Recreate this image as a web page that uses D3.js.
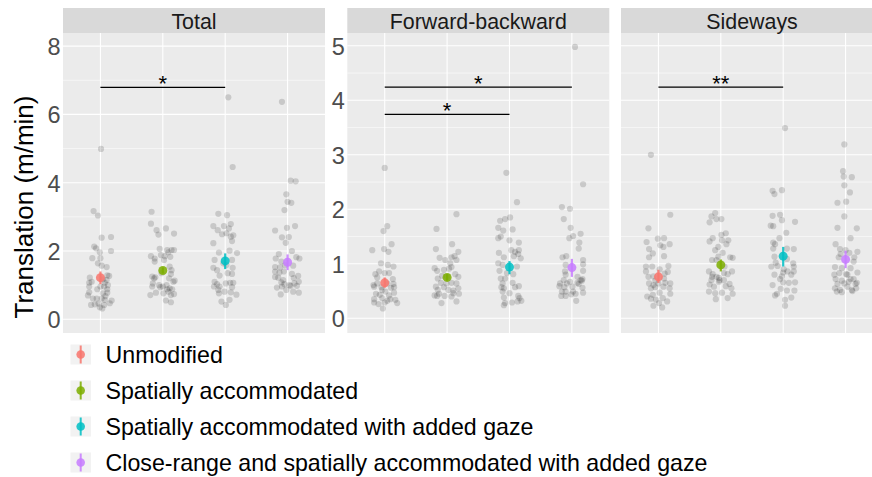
<!DOCTYPE html>
<html>
<head>
<meta charset="utf-8">
<script src="https://cdn.jsdelivr.net/npm/d3@7"></script>
<style>
  body { margin: 0; background: #fff; }
  svg { display: block; font-family: "Liberation Sans", Arial, sans-serif; }
</style>
</head>
<body>
<svg id="chart"></svg>
<script>
// conditions (legend order)
var conditions = [
  "Unmodified",
  "Spatially accommodated",
  "Spatially accommodated with added gaze",
  "Close-range and spatially accommodated with added gaze"
];
var colors = ["#F8766D", "#7CAE00", "#00BFC4", "#C77CFF"];

var panelNames = ["Total", "Forward-backward", "Sideways"];
var totalTicks = [0, 2, 4, 6, 8];
var fbTicks = [0, 1, 2, 3, 4, 5];

// raw observations per condition: [jitter offset (category units), value]
var totalUnmod = [[.01,4.99],[-.11,3.17],[-.04,3.04],[.02,2.39],[.17,2.41],[-.10,2.13],[-.07,2.08],[-.01,1.96],[.17,2.0],[-.13,1.79],[0,1.79],[-.04,1.64],[.02,1.57],[.10,1.53],[-.17,1.22],[.11,1.29],[.14,1.27],[-.18,1.07],[.07,1.07],[.12,1.0],[-.18,.96],[0,.96],[.06,.96],[-.18,.79],[.04,.76],[.11,.78],[-.2,.70],[.08,.68],[-.12,.61],[-.06,.61],[.02,.61],[.07,.57],[.18,.55],[-.15,.42],[-.09,.44],[-.03,.46],[.06,.42],[.15,.47],[-.01,.35],[.03,.32],[-.05,.88],[.11,.88],[.04,1.17],[-.14,1.1],[.1,1.15]];
var totalSpatial = [[-.18,3.15],[-.19,2.80],[-.10,2.61],[-.07,2.48],[.05,2.66],[.18,2.51],[-.05,2.06],[.07,2.03],[.14,2.03],[.18,2.03],[-.19,1.85],[-.13,1.78],[-.03,1.88],[.03,1.85],[.09,1.96],[.12,1.83],[-.13,1.69],[.02,1.74],[.11,1.54],[-.17,1.25],[-.14,1.2],[-.12,1.23],[.14,1.44],[.13,1.33],[-.16,1.05],[-.06,1.0],[.06,1.0],[.17,1.1],[.19,1.13],[-.04,.94],[.07,.88],[.11,.91],[.15,.88],[-.2,.71],[-.11,.78],[.01,.76],[.09,.81],[.13,.71],[.18,.74],[.05,.55],[.13,.5],[-.02,1.35],[.10,1.2],[-.17,.96],[0,.96]];
var totalGaze = [[.05,6.5],[.12,4.46],[-.11,3.09],[.03,3.05],[-.19,2.73],[-.12,2.61],[-.02,2.73],[.09,2.79],[.06,2.66],[-.05,2.49],[.02,2.52],[.09,2.42],[.13,2.46],[.11,2.29],[-.19,2.23],[-.10,1.95],[.07,2.01],[.19,1.94],[-.17,1.74],[.11,1.74],[-.03,1.64],[-.19,1.51],[.02,1.59],[.12,1.51],[-.13,1.44],[.04,1.35],[.11,1.33],[-.09,1.28],[-.17,1.1],[-.13,1.03],[.01,1.05],[.08,1.07],[.13,1.07],[-.18,.96],[-.09,.96],[.11,.94],[-.11,.86],[-.01,.81],[.09,.79],[.18,.72],[-.10,.76],[-.06,.52],[.07,.57],[.01,.42]];
var totalClose = [[-.09,6.37],[.05,4.06],[.13,4.04],[-.02,3.66],[0,3.44],[.06,3.41],[-.05,3.2],[-.20,2.6],[-.01,2.68],[.12,2.73],[-.09,2.4],[.02,2.41],[-.03,2.24],[.07,2.0],[-.14,1.91],[-.19,1.78],[.14,1.82],[.19,1.78],[-.10,1.69],[-.04,1.58],[.09,1.57],[-.2,1.53],[-.12,1.52],[-.20,1.4],[-.13,1.37],[-.06,1.40],[-.20,1.24],[-.15,1.22],[-.07,1.15],[.07,1.33],[.17,1.27],[.1,1.21],[-.10,1.08],[-.05,1.03],[.03,1.0],[.11,1.05],[.18,1.1],[-.09,.96],[.05,.98],[.15,.98],[-.17,.93],[-.02,.86],[.09,.81],[.18,.78],[-.11,.73]];

var fbUnmod = [[0,2.76],[.04,1.69],[-.02,1.60],[.11,1.36],[-.2,1.25],[-.01,1.27],[.06,1.22],[-.06,1.01],[.05,.98],[.14,.95],[-.09,.86],[-.15,.81],[0,.83],[.07,.83],[-.18,.61],[-.12,.64],[-.05,.57],[.04,.64],[.14,.63],[.10,.56],[-.17,.58],[.15,.57],[-.14,.45],[-.08,.43],[.01,.49],[.07,.42],[.15,.47],[-.17,.35],[-.04,.37],[.09,.35],[.17,.34],[-.17,.29],[-.1,.26],[0,.29],[.04,.32],[.2,.28],[-.03,.18],[-.12,.75],[-.04,.52],[.13,.72]];
var fbSpatial = [[.15,1.91],[-.17,1.64],[.08,1.36],[-.18,1.27],[.18,1.22],[-.12,1.11],[-.03,1.07],[.07,1.12],[.12,1.14],[.05,1.01],[.15,1.07],[-.20,.92],[-.16,.87],[-.05,.89],[.03,.91],[.07,.94],[-.15,.73],[-.08,.78],[.13,.81],[.18,.76],[-.10,.65],[-.01,.64],[.07,.65],[-.18,.58],[-.05,.57],[.15,.64],[.18,.55],[-.15,.52],[.02,.52],[.10,.51],[-.2,.42],[-.13,.45],[-.04,.41],[.10,.46],[.19,.45],[-.09,.28],[.15,.31],[.07,.4],[-.16,.41],[0,.76]];
var fbGaze = [[-.05,2.67],[.12,2.13],[-.15,1.79],[-.07,1.82],[.01,1.85],[-.18,1.66],[-.10,1.61],[.05,1.63],[-.18,1.47],[-.14,1.5],[0,1.43],[.15,1.39],[-.17,1.2],[.03,1.25],[.09,1.22],[.15,1.25],[-.09,1.12],[.07,1.14],[.14,1.18],[.18,1.1],[-.18,1.01],[-.11,.98],[.12,.95],[-.16,.87],[-.04,.83],[.06,.81],[-.14,.73],[-.07,.73],[-.11,.64],[.05,.65],[.15,.59],[-.09,.55],[-.13,.57],[.09,.57],[0,.46],[-.11,.49],[.14,.41],[.16,.37],[-.09,.38],[.13,.31],[-.07,.28],[.04,.29],[-.09,.24],[.19,.32]];
var fbClose = [[.05,4.98],[.18,2.46],[-.16,2.04],[-.03,2.01],[-.13,1.82],[-.02,1.66],[-.04,1.47],[.02,1.51],[.14,1.55],[.12,1.39],[.11,1.28],[-.15,1.12],[-.09,1.14],[.18,1.07],[-.1,.98],[.18,.99],[.18,.87],[-.11,.86],[-.10,.80],[-.13,.70],[-.03,.67],[.09,.76],[.14,.70],[.17,.72],[-.19,.64],[-.08,.64],[.09,.65],[.16,.69],[-.20,.59],[-.12,.57],[.01,.58],[.11,.63],[.17,.56],[-.16,.49],[-.10,.49],[.02,.49],[.18,.47],[-.17,.41],[-.1,.41],[-.01,.44],[.06,.45],[.07,.32]];

var swUnmod = [[-.12,3.0],[.19,1.90],[-.16,1.65],[-.01,1.46],[.09,1.47],[-.19,1.40],[.03,1.34],[.08,1.31],[.18,1.36],[-.15,1.27],[-.09,1.19],[.09,1.14],[-.15,1.12],[-.2,.95],[-.1,.95],[.16,.96],[-.2,.86],[.02,.9],[.15,.85],[-.16,.76],[-.08,.77],[.09,.73],[.19,.64],[-.15,.64],[-.08,.61],[0,.64],[.11,.65],[-.12,.55],[-.05,.57],[.08,.58],[.18,.55],[-.09,.43],[-.18,.40],[.02,.47],[.19,.45],[-.12,.36],[-.04,.34],[.07,.37],[.14,.31],[-.08,.23],[.01,.28],[.06,.20],[-.05,.69],[.1,.82]];
var swSpatial = [[-.09,1.93],[-.15,1.87],[-.07,1.82],[.01,1.82],[-.18,1.76],[.08,1.56],[.01,1.53],[-.13,1.47],[-.18,1.41],[.02,1.43],[.12,1.43],[-.04,1.31],[.09,1.36],[-.09,1.25],[.03,1.2],[-.14,1.07],[-.07,1.07],[.15,1.12],[.19,1.11],[-.04,1.13],[-.19,.86],[-.13,.81],[.05,.83],[.11,.81],[.18,.86],[-.07,.76],[-.02,.7],[-.15,.7],[.05,.7],[-.18,.62],[-.11,.58],[-.03,.67],[.08,.59],[.14,.63],[.17,.55],[-.19,.49],[-.09,.46],[.02,.47],[.19,.45],[.11,.37],[-.08,.35],[-.14,.76],[.06,.95],[-.03,.74]];
var swGaze = [[.03,3.49],[-.17,2.34],[-.14,2.28],[-.02,2.35],[-.17,1.88],[-.05,1.9],[-.02,1.80],[.19,1.77],[-.2,1.70],[-.16,1.69],[.05,1.57],[-.06,1.47],[-.16,1.39],[-.13,1.36],[-.16,1.28],[.06,1.28],[.17,1.27],[-.14,1.13],[.06,1.09],[-.12,1.02],[.16,1.01],[-.19,.95],[.17,.95],[-.09,.96],[.01,.9],[0,.84],[.07,.86],[.17,.86],[-.14,.8],[.13,.8],[-.05,.72],[.09,.65],[.19,.66],[-.17,.61],[0,.66],[-.04,.54],[.06,.51],[.18,.51],[-.10,.45],[-.13,.42],[.13,.38],[.03,.34],[.03,.23],[-.02,.77]];
var swClose = [[-.02,3.19],[-.04,2.70],[-.03,2.6],[.10,2.59],[-.02,2.44],[.07,2.31],[-.13,2.12],[.01,2.14],[-.02,1.87],[-.13,1.66],[.18,1.65],[.08,1.47],[-.16,1.36],[-.09,1.27],[0,1.25],[.19,1.22],[-.08,1.18],[.06,1.20],[-.11,1.12],[.14,1.12],[.13,1.04],[-.17,.94],[-.06,.92],[.08,.92],[.01,.81],[.19,.84],[-.1,.83],[-.18,.80],[.03,.80],[-.16,.72],[-.06,.69],[.08,.72],[.13,.72],[.18,.65],[-.13,.63],[-.02,.64],[.05,.67],[.16,.63],[-.17,.55],[-.09,.52],[.03,.58],[.10,.52],[.17,.55],[-.14,.49],[-.06,.48],[.11,.5]];

// group means with error bars
var totalMean = [1.22, 1.43, 1.71, 1.67];
var totalLow  = [1.03, 1.34, 1.47, 1.44];
var totalHigh = [1.40, 1.52, 1.93, 1.90];
var fbMean = [0.65, 0.75, 0.94, 0.93];
var fbLow  = [0.56, 0.69, 0.81, 0.76];
var fbHigh = [0.75, 0.81, 1.05, 1.09];
var swMean = [0.76, 0.98, 1.14, 1.08];
var swLow  = [0.65, 0.86, 0.95, 0.92];
var swHigh = [0.89, 1.08, 1.31, 1.24];

// significance brackets: [from, to, height, label]
var totalSig = [[0, 2, 6.79, "*"]];
var fbSig = [[0, 3, 4.24, "*"], [0, 2, 3.74, "*"]];
var swSig = [[0, 2, 4.24, "**"]];

var width = 872, height = 477;
var panelTop = 33, panelBottom = 333, stripTop = 8;
var panelW = 262;

var panels = [
  { name: panelNames[0], x0: 63, domain: [-0.401, 8.384], ticks: totalTicks, labels: true,
    points: [totalUnmod, totalSpatial, totalGaze, totalClose],
    mean: totalMean, low: totalLow, high: totalHigh, sig: totalSig },
  { name: panelNames[1], x0: 347.3, domain: [-0.27, 5.235], ticks: fbTicks, labels: true,
    points: [fbUnmod, fbSpatial, fbGaze, fbClose],
    mean: fbMean, low: fbLow, high: fbHigh, sig: fbSig },
  { name: panelNames[2], x0: 621, domain: [-0.27, 5.235], ticks: fbTicks, labels: false,
    points: [swUnmod, swSpatial, swGaze, swClose],
    mean: swMean, low: swLow, high: swHigh, sig: swSig }
];

var svg = d3.select("#chart").attr("width", width).attr("height", height);
svg.append("rect").attr("width", width).attr("height", height).attr("fill", "#fff");

panels.forEach(function(p) {
  var x = d3.scalePoint().domain(d3.range(4)).range([p.x0, p.x0 + panelW]).padding(0.6);
  var step = x.step();
  var y = d3.scaleLinear().domain(p.domain).range([panelBottom, panelTop]);
  var g = svg.append("g");

  g.append("rect")
    .attr("x", p.x0).attr("y", panelTop)
    .attr("width", panelW).attr("height", panelBottom - panelTop)
    .attr("fill", "#ebebeb");

  var minors = p.ticks.slice(1).map(function(t, i) { return (t + p.ticks[i]) / 2; });
  g.selectAll(".minor").data(minors).enter().append("line")
    .attr("x1", p.x0).attr("x2", p.x0 + panelW)
    .attr("y1", d => y(d)).attr("y2", d => y(d))
    .attr("stroke", "#fff").attr("stroke-width", 0.55);
  g.selectAll(".major").data(p.ticks).enter().append("line")
    .attr("x1", p.x0).attr("x2", p.x0 + panelW)
    .attr("y1", d => y(d)).attr("y2", d => y(d))
    .attr("stroke", "#fff").attr("stroke-width", 1.1);
  g.selectAll(".vmajor").data(d3.range(4)).enter().append("line")
    .attr("x1", d => x(d)).attr("x2", d => x(d))
    .attr("y1", panelTop).attr("y2", panelBottom)
    .attr("stroke", "#fff").attr("stroke-width", 1.1);

  // strip
  g.append("rect")
    .attr("x", p.x0).attr("y", stripTop)
    .attr("width", panelW).attr("height", panelTop - stripTop)
    .attr("fill", "#d9d9d9");
  g.append("text")
    .attr("x", p.x0 + panelW / 2).attr("y", 29)
    .attr("text-anchor", "middle")
    .style("font-size", "21.4px").attr("fill", "#1a1a1a")
    .text(p.name);

  if (p.labels) {
    var axis = d3.axisLeft(y).tickValues(p.ticks).tickSize(0).tickPadding(2.5).tickFormat(d3.format("d"));
    var ax = g.append("g").attr("transform", "translate(" + p.x0 + ",0)").call(axis);
    ax.select(".domain").remove();
    ax.selectAll("text")
      .attr("dy", "0.36em")
      .style("font-size", "23.5px")
      .style("font-family", "'Liberation Sans', Arial, sans-serif")
      .attr("fill", "#4d4d4d");
  }

  // jittered observations
  p.points.forEach(function(arr, i) {
    g.selectAll(".pt" + i).data(arr).enter().append("circle")
      .attr("cx", d => x(i) + d[0] * step)
      .attr("cy", d => y(d[1]))
      .attr("r", 3.1)
      .attr("fill", "#000")
      .attr("fill-opacity", 0.15);
  });

  // mean and interval
  d3.range(4).forEach(function(i) {
    g.append("line")
      .attr("x1", x(i)).attr("x2", x(i))
      .attr("y1", y(p.low[i])).attr("y2", y(p.high[i]))
      .attr("stroke", colors[i]).attr("stroke-width", 2.2).attr("opacity", 0.85);
    g.append("circle")
      .attr("cx", x(i)).attr("cy", y(p.mean[i])).attr("r", 4.5)
      .attr("fill", colors[i]).attr("opacity", 0.85);
  });

  // significance
  p.sig.forEach(function(s) {
    g.append("line")
      .attr("x1", x(s[0])).attr("x2", x(s[1]))
      .attr("y1", y(s[2])).attr("y2", y(s[2]))
      .attr("stroke", "#000").attr("stroke-width", 1.2);
    g.append("text")
      .attr("x", (x(s[0]) + x(s[1])) / 2).attr("y", y(s[2]) + 4)
      .attr("text-anchor", "middle")
      .style("font-size", "22px").attr("fill", "#000")
      .text(s[3]);
  });
});

// y axis title
svg.append("text")
  .attr("transform", "translate(33.3,207) rotate(-90)")
  .attr("text-anchor", "middle")
  .style("font-size", "26px").attr("fill", "#000")
  .text("Translation (m/min)");

// legend
var legend = svg.append("g");
var rowY = d3.scalePoint().domain(d3.range(4)).range([354.5, 462.5]);
conditions.forEach(function(c, i) {
  var cy = rowY(i);
  legend.append("rect")
    .attr("x", 70.5).attr("y", cy - 10).attr("width", 20.5).attr("height", 20)
    .attr("fill", "#f2f2f2");
  legend.append("line")
    .attr("x1", 80.7).attr("x2", 80.7).attr("y1", cy - 9).attr("y2", cy + 9)
    .attr("stroke", colors[i]).attr("stroke-width", 2).attr("opacity", 0.85);
  legend.append("circle")
    .attr("cx", 80.7).attr("cy", cy).attr("r", 4.3)
    .attr("fill", colors[i]).attr("opacity", 0.85);
  legend.append("text")
    .attr("x", 105.5).attr("y", cy).attr("dy", "0.36em")
    .style("font-size", "23.2px").attr("fill", "#000")
    .text(c);
});
</script>
</body>
</html>
